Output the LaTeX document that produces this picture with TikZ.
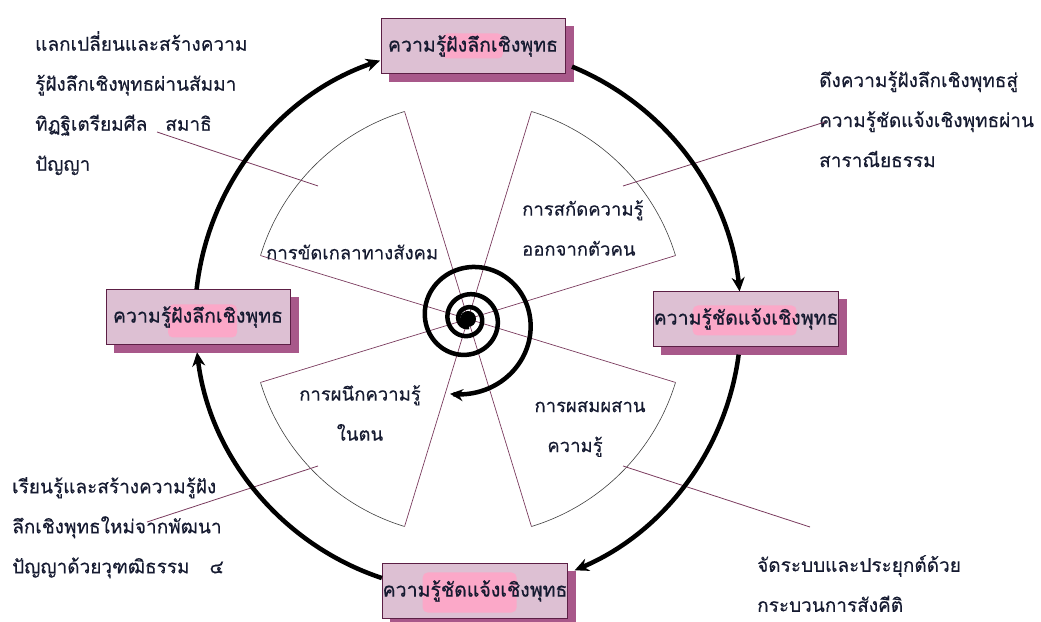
\documentclass[tikz,border=0pt]{standalone}
\usepackage{fontspec}
\newfontfamily\thaifont[Script=Thai,FakeBold=0.3]{Loma}
\newfontfamily\thaiheavy[Script=Thai,FakeBold=0.8]{Loma}
\usepackage{tikz}
\usetikzlibrary{arrows.meta,calc,backgrounds}
\definecolor{BoxFill}{HTML}{DDC0D3}
\definecolor{BoxLine}{HTML}{5C1F45}
\definecolor{BoxShade}{HTML}{A8588A}
\definecolor{Blush}{HTML}{FBA8C8}
\definecolor{Plum}{HTML}{7A3B5E}
\definecolor{Ink}{HTML}{151A30}

\begin{document}
\begin{tikzpicture}[x=1pt,y=1pt,
  kbox/.style={draw=BoxLine,line width=1pt,fill=BoxFill,minimum width=184,minimum height=55,
    inner sep=0pt,font=\thaiheavy\fontsize{19.5}{40}\selectfont,text=Ink},
  blush/.style n args={4}{path picture={\fill[Blush,rounded corners=5pt]
    ($(path picture bounding box.south west)+(#1,#2)$) rectangle ++(#3,#4);}},
  lbl/.style={font=\thaifont\fontsize{19}{40}\selectfont,text=Ink,inner sep=0pt},
  inlbl/.style={font=\thaifont\fontsize{18.5}{40}\selectfont,text=Ink,inner sep=0pt},
  cyc/.style={line width=4.5pt,-{Stealth[length=14pt,width=13pt]}},
  rim/.style={draw=black!75,line width=0.6pt},
  spoke/.style={draw=Plum,line width=0.7pt},
  lead/.style={draw=Plum,line width=0.8pt}]
  \useasboundingbox (0,0) rectangle (1041,621);
  \coordinate (c) at (468,302);

  % four sectors
  \foreach \a in {17,107,197,287}{
    \draw[rim] ($(c)+(\a:217)$) arc[start angle=\a,delta angle=56,radius=217];
    \draw[spoke] (c) -- ++(\a:217) (c) -- ++(\a+56:217);
  }

  \node[inlbl,anchor=west] (social) at (266,369) {การขัดเกลาทางสังคม};
  \node[inlbl,anchor=north west,align=left] (extract) at (522,421) {การสกัดความรู้\\ออกจากตัวคน};
  \node[inlbl,anchor=north,align=center] (embed) at (360,236) {การผนึกความรู้\\ในตน};
  \node[inlbl,anchor=north,align=center] (blend) at (590,220) {การผสมผสาน\\ความรู้\rule{30pt}{0pt}};

  % notes round the cycle
  \node[lbl,anchor=north west,align=left] (ntl) at (35,590)
    {แลกเปลี่ยนและสร้างความ\\รู้ฝังลึกเชิงพุทธผ่านสัมมา\\ทิฏฐิเตรียมศีล\hspace{18pt}สมาธิ\\ปัญญา};
  \node[lbl,anchor=north west,align=left] (ntr) at (819,550)
    {ดึงความรู้ฝังลึกเชิงพุทธสู่\\ความรู้ชัดแจ้งเชิงพุทธผ่าน\\สาราณียธรรม};
  \node[lbl,anchor=north west,align=left] (nbl) at (12,144)
    {เรียนรู้และสร้างความรู้ฝัง\\ลึกเชิงพุทธใหม่จากพัฒนา\\ปัญญาด้วยวุฑฒิธรรม\hspace{20pt}๔};
  \node[lbl,anchor=north west,align=left] (nbr) at (757,66)
    {จัดระบบและประยุกต์ด้วย\\กระบวนการสังคีติ};

  \coordinate (tla) at (157,489); \coordinate (tlb) at (318,435);
  \coordinate (tra) at (825,499); \coordinate (trb) at (623,435);
  \coordinate (bla) at (147,99);  \coordinate (blb) at (318,155);
  \coordinate (bra) at (810,94);  \coordinate (brb) at (623,155);
  \draw[lead] (tla) -- (tlb);
  \draw[lead] (tra) -- (trb);
  \draw[lead] (bla) -- (blb);
  \draw[lead] (bra) -- (brb);

  % spiral in the hub
  \fill (c) circle (8);
  \begin{scope}[shift={(c)}]
    \draw[line width=4.5pt,-{Stealth[length=13pt,width=12pt]}]
      plot[domain=-1100:0,samples=240,smooth,variable=\s]
      ({-103.5-(\s)}:{77*exp(0.742*(\s)/360)});
  \end{scope}

  % the four boxes
  \node[kbox,blush={61}{15}{61}{25}] (deep) at (473,575) {ความรู้ฝังลึกเชิงพุทธ};
  \node[kbox,blush={39}{11}{104}{30}] (clear) at (746,302) {ความรู้ชัดแจ้งเชิงพุทธ};
  \node[kbox,blush={40}{6}{94}{40}] (clearb) at (475,30) {ความรู้ชัดแจ้งเชิงพุทธ};
  \node[kbox,blush={62}{7}{69}{33}] (deepl) at (198,304) {ความรู้ฝังลึกเชิงพุทธ};
  \begin{scope}[on background layer]
    \foreach \b in {deep,clear,clearb,deepl}
      \fill[BoxShade] ([shift={(8,-8)}]\b.south west) rectangle ([shift={(8,-8)}]\b.north east);
  \end{scope}

  % the cycle
  \draw[cyc] (c) ++(67.6:273) arc[start angle=67.6,end angle=5.8,radius=273];
  \draw[cyc] (c) ++(-7.5:273) arc[start angle=-7.5,end angle=-67,radius=273];
  \draw[cyc] (c) ++(251.6:273) arc[start angle=251.6,end angle=187,radius=273];
  \draw[cyc] (c) ++(173.8:273) arc[start angle=173.8,end angle=108.8,radius=273];
\end{tikzpicture}
\end{document}
